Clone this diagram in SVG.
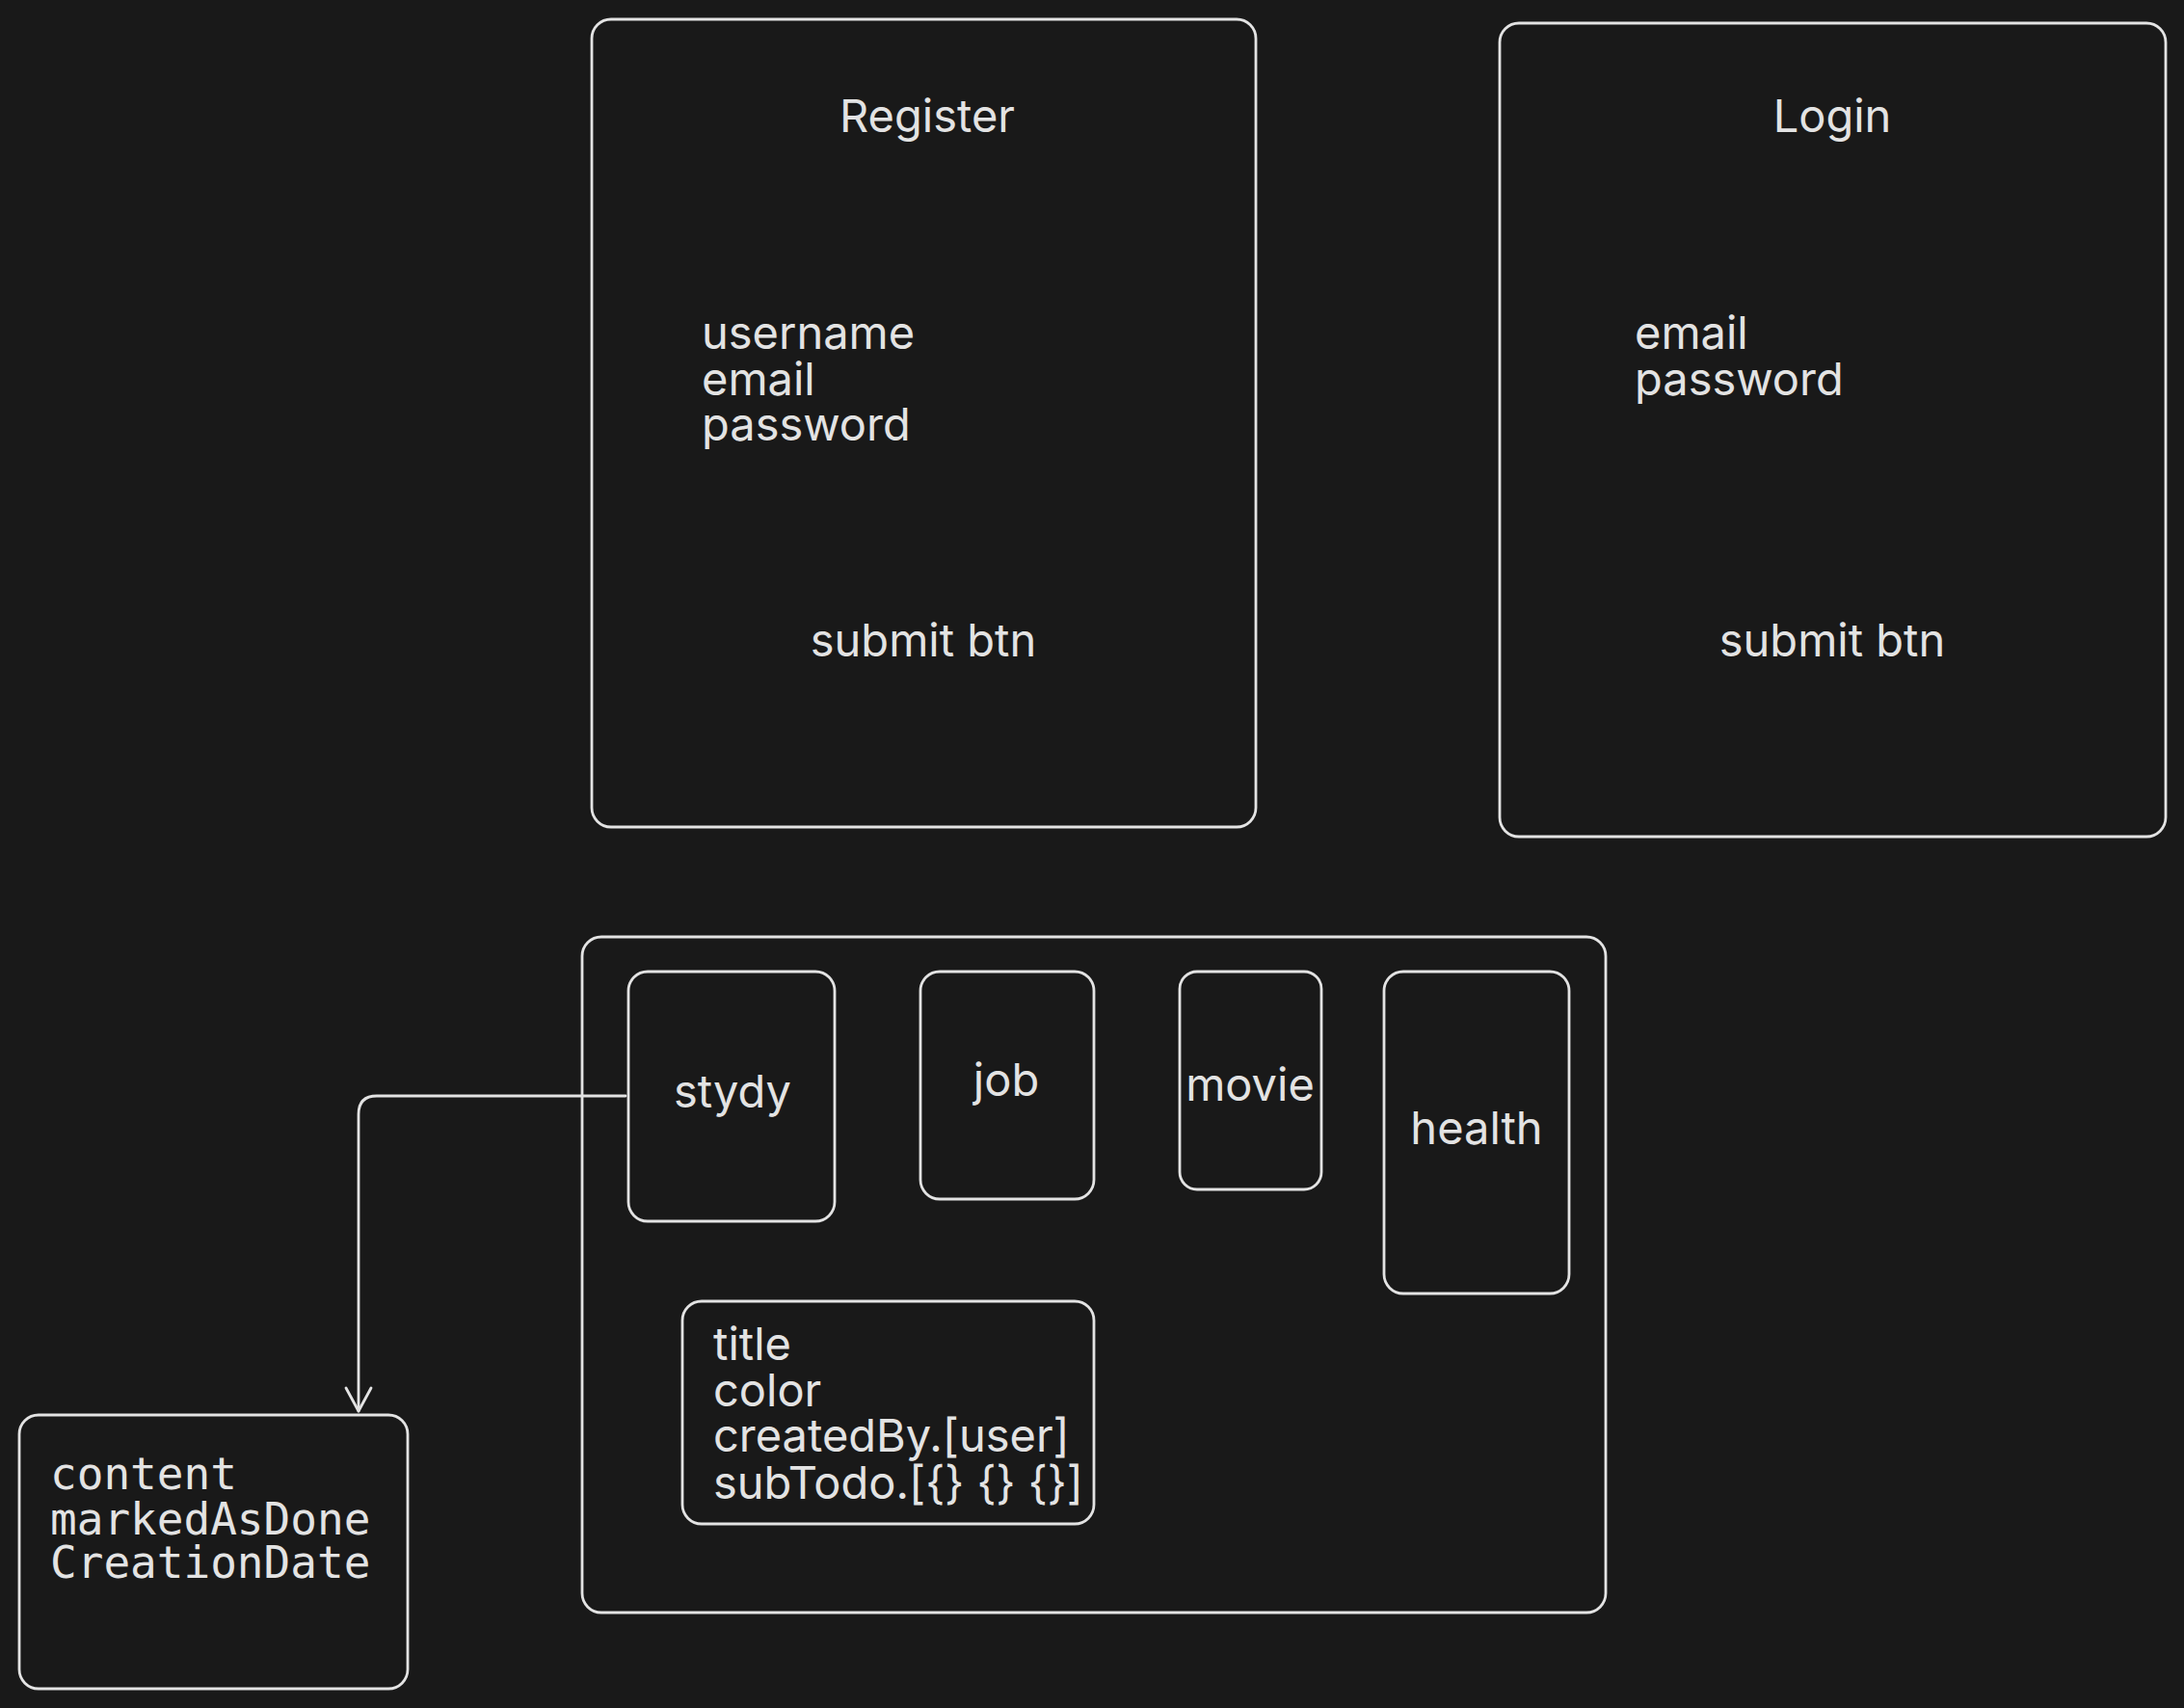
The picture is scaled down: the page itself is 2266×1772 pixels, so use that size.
<svg xmlns="http://www.w3.org/2000/svg" width="2266" height="1772" viewBox="0 0 2266 1772">
<defs>
<style>
.box{fill:none;stroke:#e3e3e3;stroke-width:2.8;stroke-linecap:round;stroke-linejoin:round}
.t{font-family:Inter,"Noto Sans","Liberation Sans",sans-serif;font-size:47px;fill:#e3e3e3}
.m{font-family:"DejaVu Sans Mono","Liberation Mono",monospace;font-size:46px;fill:#e3e3e3}
.c{text-anchor:middle}
.conn{fill:none;stroke:#e3e3e3;stroke-width:2.8;stroke-linecap:round;stroke-linejoin:round}
</style>
<marker id="arr" viewBox="0 0 30 30" refX="26" refY="15" markerWidth="30" markerHeight="30" markerUnits="userSpaceOnUse" orient="auto">
<path d="M2,2 L26,15 L2,28" fill="none" stroke="#e3e3e3" stroke-width="2.8" stroke-linecap="round" stroke-linejoin="round"/>
</marker>
</defs>
<rect width="2266" height="1772" fill="#191919"/>

<g id="register">
<rect class="box" x="614" y="20" width="689" height="838" rx="20"/>
<text class="t c" x="962" y="137">Register</text>
<text class="t" x="728" y="362">username</text>
<text class="t" x="728" y="410">email</text>
<text class="t" x="728" y="457">password</text>
<text class="t c" x="958" y="681">submit btn</text>
</g>

<g id="login">
<rect class="box" x="1556" y="24" width="691" height="844" rx="20"/>
<text class="t c" x="1901" y="137">Login</text>
<text class="t" x="1696" y="362">email</text>
<text class="t" x="1696" y="410">password</text>
<text class="t c" x="1901" y="681">submit btn</text>
</g>

<g id="container">
<rect class="box" x="604" y="972" width="1062" height="701" rx="20"/>
</g>

<g id="stydy">
<rect class="box" x="652" y="1008" width="214" height="259" rx="20"/>
<text class="t c" x="760" y="1149">stydy</text>
</g>

<g id="job">
<rect class="box" x="955" y="1008" width="180" height="236" rx="20"/>
<text class="t c" x="1044" y="1137">job</text>
</g>

<g id="movie">
<rect class="box" x="1224" y="1008" width="147" height="226" rx="18"/>
<text class="t c" x="1297" y="1142">movie</text>
</g>

<g id="health">
<rect class="box" x="1436" y="1008" width="192" height="334" rx="20"/>
<text class="t c" x="1532" y="1187">health</text>
</g>

<g id="todo">
<rect class="box" x="708" y="1350" width="427" height="231" rx="20"/>
<text class="t" x="740" y="1411">title</text>
<text class="t" x="740" y="1459">color</text>
<text class="t" x="740" y="1506">createdBy.[user]</text>
<text class="t" x="740" y="1555">subTodo.[{} {} {}]</text>
</g>

<g id="subtodo">
<rect class="box" x="20" y="1468" width="403" height="284" rx="20"/>
<text class="m" x="52" y="1545">content</text>
<text class="m" x="52" y="1592">markedAsDone</text>
<text class="m" x="52" y="1637">CreationDate</text>
</g>

<g id="connectors">
<path class="conn" d="M649,1137 L391,1137 Q372,1137 372,1156 L372,1464" marker-end="url(#arr)"/>
</g>
</svg>
